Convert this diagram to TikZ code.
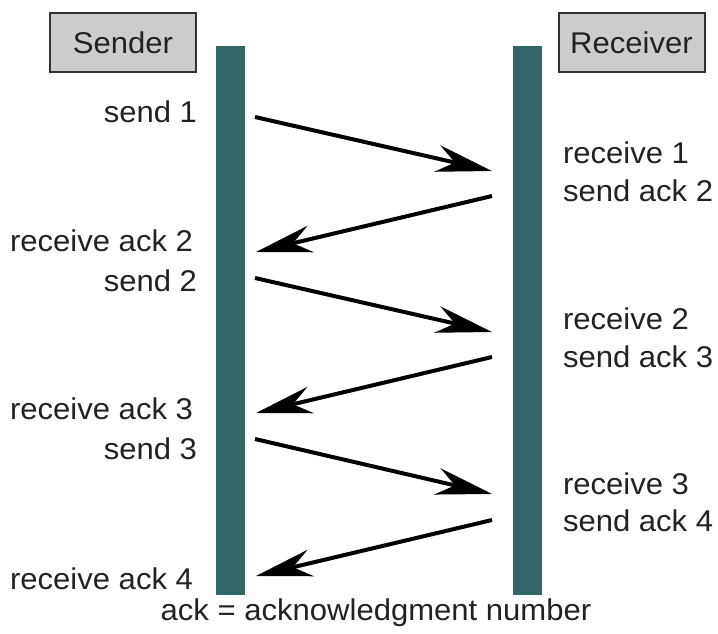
\documentclass[tikz,border=0pt]{standalone}
\usepackage{fontspec}
\setmainfont[FakeStretch=1.035]{Liberation Sans}
\usetikzlibrary{arrows.meta}
\definecolor{lifeline}{HTML}{336666}
\definecolor{headfill}{HTML}{CCCCCC}
\definecolor{headline}{HTML}{333333}
\definecolor{txt}{HTML}{222222}
\begin{document}
\begin{tikzpicture}[x=1pt,y=-1pt,
  every node/.style={inner sep=0pt, outer sep=0pt, text=txt, font=\fontsize{30}{34}\selectfont},
  party/.style={draw=headline, line width=2pt, fill=headfill, minimum width=146pt, minimum height=59pt},
  bar/.style={fill=lifeline, draw=none, minimum width=29pt, minimum height=549pt},
  lefttext/.style={anchor=base east},
  righttext/.style={anchor=base west},
  msg/.style={line width=4pt, -{Stealth[length=56pt, width=27pt, inset=18pt]}}
]
\useasboundingbox (0,0) rectangle (718,634);

% participants
\node[party] (sender) at (123,42.5) {Sender};
\node[party] (receiver) at (631.5,42.5) {Receiver};

% lifelines
\node[bar] (sbar) at (230.5,320.5) {};
\node[bar] (rbar) at (527,320.5) {};

% message end points
\coordinate (s1) at (255,117);  \coordinate (r1) at (492,171);
\coordinate (r2) at (492,196);  \coordinate (s2) at (256,252);
\coordinate (s3) at (255,278);  \coordinate (r3) at (492,332);
\coordinate (r4) at (492,357);  \coordinate (s4) at (256,413);
\coordinate (s5) at (255,439);  \coordinate (r5) at (492,494);
\coordinate (r6) at (492,520);  \coordinate (s6) at (256,576);

\draw[msg] (s1) -- (r1);
\draw[msg] (r2) -- (s2);
\draw[msg] (s3) -- (r3);
\draw[msg] (r4) -- (s4);
\draw[msg] (s5) -- (r5);
\draw[msg] (r6) -- (s6);

% sender side labels
\node[lefttext] (l1) at (197,122) {send 1};
\node[lefttext] (l2) at (193,251) {receive ack 2};
\node[lefttext] (l3) at (197,291) {send 2};
\node[lefttext] (l4) at (193,419) {receive ack 3};
\node[lefttext] (l5) at (197,459) {send 3};
\node[lefttext] (l6) at (193,589) {receive ack 4};

% receiver side labels
\node[righttext] (m1) at (563,163) {receive 1};
\node[righttext] (m2) at (563,201) {send ack 2};
\node[righttext] (m3) at (563,329) {receive 2};
\node[righttext] (m4) at (563,367) {send ack 3};
\node[righttext] (m5) at (563,494) {receive 3};
\node[righttext] (m6) at (563,531) {send ack 4};

% legend
\node[anchor=base] (legend) at (376,620) {ack = acknowledgment number};
\end{tikzpicture}
\end{document}
